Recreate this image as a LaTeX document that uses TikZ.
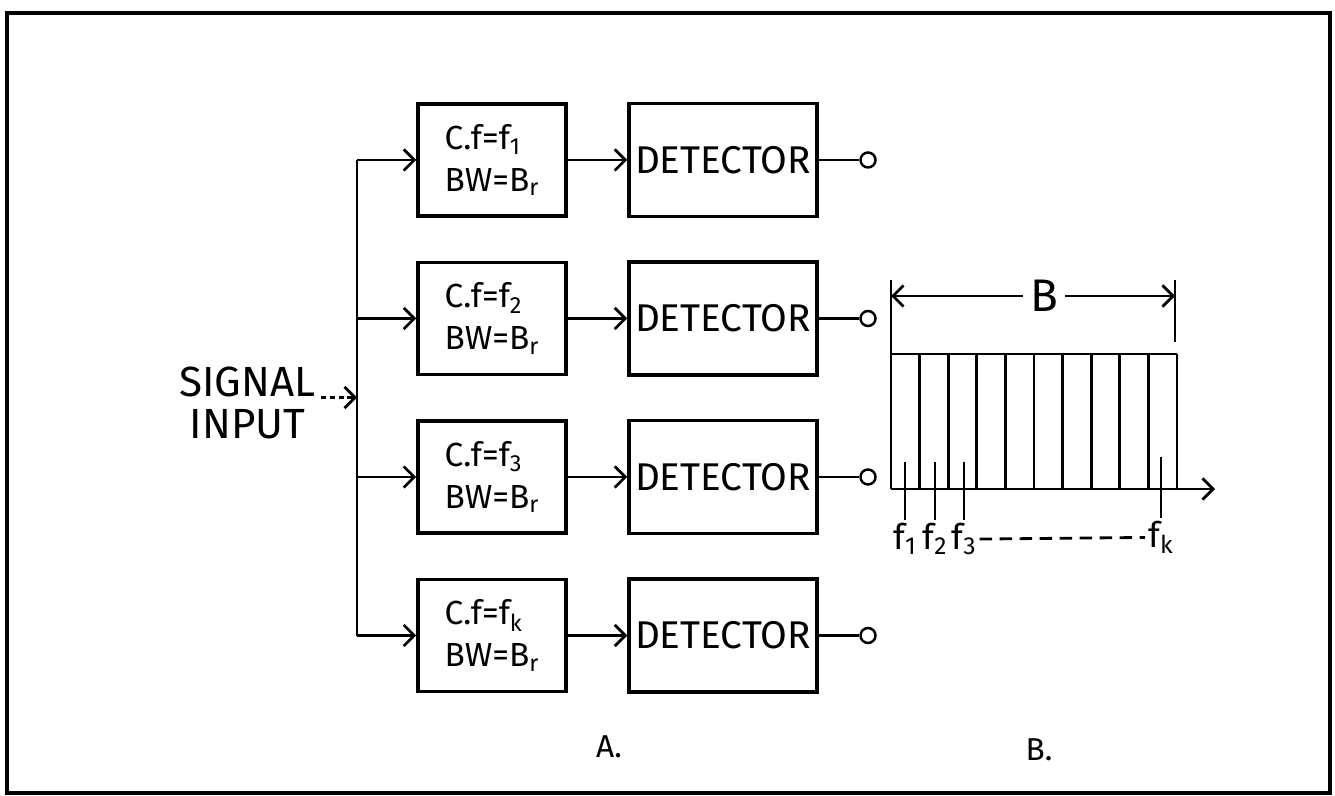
\documentclass[tikz,border=0pt]{standalone}
\usepackage{fontspec}
\setmainfont{Fira Sans}
\usetikzlibrary{arrows.meta}

\begin{document}
\begin{tikzpicture}[
  trait/.style={line width=1.6pt},
  fleche/.style={line width=1.6pt, -{Straight Barb[length=6pt,width=12pt,line width=1.6pt]}},
  filtre/.style={draw, line width=2pt, minimum width=2.96cm, minimum height=2.24cm, align=left, font=\fontsize{19}{24}\selectfont},
  detecteur/.style={draw, line width=2pt, minimum width=3.76cm, minimum height=2.26cm, inner xsep=2pt, font=\fontsize{22}{24}\selectfont},
  sortie/.style={draw, circle, line width=1.4pt, minimum size=0.3cm, inner sep=0pt},
  etiquette/.style={font=\fontsize{20}{22}\selectfont, inner sep=1pt}
]
\useasboundingbox (0,0) rectangle (26.7,15.9);

% Cadre
\draw[line width=1.8pt] (0.14,0.04) rectangle (26.6,15.64);

% Filtres
\node[filtre] (filtre1) at (9.84,12.70) {C.f=f\textsubscript{1}\\BW=B\textsubscript{r}};
\node[filtre] (filtre2) at (9.84,9.53)  {C.f=f\textsubscript{2}\\BW=B\textsubscript{r}};
\node[filtre] (filtre3) at (9.84,6.36)  {C.f=f\textsubscript{3}\\BW=B\textsubscript{r}};
\node[filtre] (filtre4) at (9.84,3.19)  {C.f=f\textsubscript{k}\\BW=B\textsubscript{r}};

% Detecteurs
\node[detecteur] (det1) at (14.46,12.70) {DETECTOR};
\node[detecteur] (det2) at (14.46,9.53)  {DETECTOR};
\node[detecteur] (det3) at (14.46,6.36)  {DETECTOR};
\node[detecteur] (det4) at (14.46,3.19)  {DETECTOR};

% Sorties
\node[sortie] (sortie1) at (17.36,12.70) {};
\node[sortie] (sortie2) at (17.36,9.53)  {};
\node[sortie] (sortie3) at (17.36,6.36)  {};
\node[sortie] (sortie4) at (17.36,3.19)  {};

% Entree et bus
\node[align=center, font=\fontsize{24}{24}\selectfont] (entree) at (4.95,7.84) {SIGNAL\\INPUT};
\coordinate (e0) at (6.42,7.95);
\coordinate (bin) at (7.14,7.95);
\coordinate (b1) at (7.14,12.70);
\coordinate (b2) at (7.14,9.53);
\coordinate (b3) at (7.14,6.36);
\coordinate (b4) at (7.14,3.19);
\draw[fleche, dash pattern=on 3pt off 2pt] (e0) -- (bin);
\draw[trait] (b1) -- (b4);

% Liaisons
\draw[fleche] (b1) -- (filtre1);
\draw[fleche] (b2) -- (filtre2);
\draw[fleche] (b3) -- (filtre3);
\draw[fleche] (b4) -- (filtre4);
\draw[fleche] (filtre1) -- (det1);
\draw[fleche] (filtre2) -- (det2);
\draw[fleche] (filtre3) -- (det3);
\draw[fleche] (filtre4) -- (det4);
\draw[trait] (det1) -- (sortie1);
\draw[trait] (det2) -- (sortie2);
\draw[trait] (det3) -- (sortie3);
\draw[trait] (det4) -- (sortie4);

% Spectre
\draw[trait] (17.82,10.3) -- (17.82,6.12);
\draw[trait] (17.82,8.82) -- (23.54,8.82);
\foreach \i in {1,...,10}
  \draw[trait] ({17.82+0.572*\i},8.82) -- ++(0,-2.7);
\draw[fleche] (17.82,6.12) -- (24.3,6.12);
\draw[trait] (23.5,10.3) -- (23.5,9.06);

% Largeur B
\node[font=\fontsize{26}{28}\selectfont, inner xsep=0.14cm] (largeur) at (20.88,9.98) {B};
\coordinate (bg) at (17.82,9.98);
\coordinate (bd) at (23.5,9.98);
\draw[fleche] (largeur) -- (bg);
\draw[fleche] (largeur) -- (bd);

% Frequences
\draw[trait] (18.1,6.66)  -- (18.1,5.5)   node[below, etiquette] (lf1) {f\textsubscript{1}};
\draw[trait] (18.7,6.66)  -- (18.7,5.5)   node[below, etiquette] (lf2) {f\textsubscript{2}};
\draw[trait] (19.28,6.66) -- (19.28,5.5)  node[below, etiquette] (lf3) {f\textsubscript{3}};
\draw[trait] (23.22,6.76) -- (23.22,5.54) node[below, etiquette] (lfk) {f\textsubscript{k}};
\draw[trait, dash pattern=on 0.25cm off 0.15cm] (lf3) -- (lfk);

% Legendes
\node[font=\fontsize{18}{20}\selectfont] (titreA) at (12.18,0.96) {A.};
\node[font=\fontsize{18}{20}\selectfont] (titreB) at (20.78,0.9) {B.};

\end{tikzpicture}
\end{document}
